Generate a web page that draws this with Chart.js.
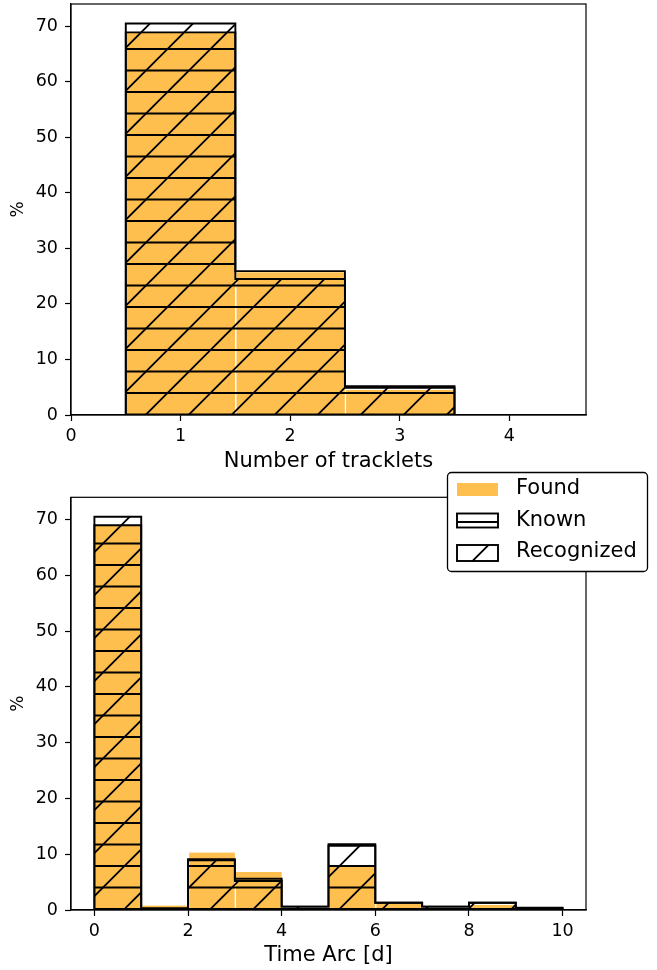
<!DOCTYPE html>
<html><head><meta charset="utf-8">
<script src="https://cdn.jsdelivr.net/npm/chart.js@4.4.1/dist/chart.umd.min.js"></script>
<style>
html,body{margin:0;padding:0;background:#fff;}
#wrap{position:relative;width:657px;height:970px;background:#fff;}
canvas{position:absolute;left:0;}
</style></head><body>
<div id="wrap">
<canvas id="c1" width="657" height="470" style="top:0px"></canvas>
<canvas id="c2" width="657" height="500" style="top:470px"></canvas>
</div>
<script>
// ---- data: top panel (Number of tracklets) ----
const trackletEdges = [0.5, 1.5, 2.5, 3.5];
const trackletFound = [68.9, 25.7, 4.5];
const trackletKnown = [68.9, 25.9, 5.2];
const trackletRecognized = [70.5, 24.5, 4.9];
const trackletTicks = [0, 1, 2, 3, 4];

// ---- data: bottom panel (Time Arc [d]) ----
const arcEdges = [0, 1, 2, 3, 4, 5, 6, 7, 8, 9, 10];
const arcFound = [69.0, 0.8, 10.3, 6.8, 0.4, 7.9, 1.1, 0.4, 0.9, 0.2];
const arcKnown = [69.0, 0.3, 9.1, 5.6, 0.6, 11.8, 1.3, 0.6, 1.3, 0.4];
const arcRecognized = [70.5, 0.3, 8.9, 5.2, 0.6, 11.5, 1.3, 0.6, 1.3, 0.3];
const arcTicks = [0, 2, 4, 6, 8, 10];

const percentTicks = [0, 10, 20, 30, 40, 50, 60, 70];
const legendLabels = ['Found', 'Known', 'Recognized'];

const FONT = '"DejaVu Sans", "Liberation Sans", sans-serif';
const ORANGE = 'rgb(254,191,78)';
const LW = 1.9;

function makeHatch(canvas, kind, phase) {
  const T = 43;
  const c = document.createElement('canvas');
  c.width = T; c.height = T;
  const g = c.getContext('2d');
  g.strokeStyle = '#000';
  g.lineWidth = LW;
  g.beginPath();
  if (kind === 'h') {
    for (let k = -2; k <= 3; k++) { const y = phase + k * 21.5; g.moveTo(-2, y); g.lineTo(T + 2, y); }
  } else {
    for (let k = -2; k <= 3; k++) { const s = phase + k * T; g.moveTo(s + 5, -5); g.lineTo(s - T - 5, T + 5); }
  }
  g.stroke();
  return canvas.getContext('2d').createPattern(c, 'repeat');
}

function centers(edges) { return edges.slice(0, -1).map((e, i) => (e + edges[i + 1]) / 2); }
function barPoints(edges, vals) { const c = centers(edges); return vals.map((v, i) => ({x: c[i], y: v})); }
function stepPoints(edges, vals) {
  const pts = [{x: edges[0], y: 0}];
  vals.forEach((v, i) => pts.push({x: edges[i], y: v}));
  pts.push({x: edges[edges.length - 1], y: 0});
  return pts;
}

function zeroPad(s) { s.paddingTop = 0; s.paddingBottom = 0; s.paddingLeft = 0; s.paddingRight = 0; }

const framePlugin = {
  id: 'frame',
  afterDatasetsDraw(chart) {
    const {ctx, chartArea: a} = chart;
    ctx.save();
    ctx.strokeStyle = '#000';
    ctx.lineWidth = 1.2;
    ctx.strokeRect(a.left, a.top, a.right - a.left, a.bottom - a.top);
    ctx.restore();
  }
};

function legendPlugin(hatchH, hatchD) {
  return {
    id: 'customLegend',
    afterDraw(chart) {
      const ctx = chart.ctx;
      ctx.save();
      const x0 = 447.5, y0 = 2.5, w = 200, h = 99, r = 4;
      ctx.beginPath();
      ctx.moveTo(x0 + r, y0);
      ctx.lineTo(x0 + w - r, y0); ctx.arcTo(x0 + w, y0, x0 + w, y0 + r, r);
      ctx.lineTo(x0 + w, y0 + h - r); ctx.arcTo(x0 + w, y0 + h, x0 + w - r, y0 + h, r);
      ctx.lineTo(x0 + r, y0 + h); ctx.arcTo(x0, y0 + h, x0, y0 + h - r, r);
      ctx.lineTo(x0, y0 + r); ctx.arcTo(x0, y0, x0 + r, y0, r);
      ctx.closePath();
      ctx.fillStyle = '#fff';
      ctx.fill();
      ctx.strokeStyle = '#000';
      ctx.lineWidth = 1.3;
      ctx.stroke();
      const rows = [19.5, 50.5, 83];
      const px = 457, pw = 41, ph = 14;
      ctx.fillStyle = ORANGE;
      ctx.fillRect(px, rows[0] - 6.5, pw, 13);
      ctx.fillStyle = hatchH;
      ctx.fillRect(px, rows[1] - ph / 2, pw, ph);
      ctx.lineWidth = LW;
      ctx.strokeRect(px, rows[1] - ph / 2, pw, ph);
      ctx.fillStyle = hatchD;
      ctx.fillRect(px, rows[2] - ph / 2 - 1, pw, ph + 2);
      ctx.strokeRect(px, rows[2] - ph / 2 - 1, pw, ph + 2);
      ctx.fillStyle = '#000';
      ctx.font = '21px ' + FONT;
      ctx.textBaseline = 'middle';
      ctx.textAlign = 'left';
      const ty = [19, 51, 82];
      legendLabels.forEach((t, i) => ctx.fillText(t, 516, ty[i]));
      ctx.restore();
    }
  };
}

function makeChart(id, cfg) {
  const canvas = document.getElementById(id);
  const H = canvas.height;
  const hatchH = makeHatch(canvas, 'h', cfg.hPhase);
  const hatchD = makeHatch(canvas, 'd', cfg.dPhase);
  const gridOpts = {display: true, drawOnChartArea: false, drawTicks: true, tickLength: 6, tickWidth: 1.2, tickColor: '#000', offset: false};
  const plugins = [framePlugin];
  if (cfg.legend) plugins.push(legendPlugin(hatchH, hatchD));
  return new Chart(canvas, {
    type: 'bar',
    data: {
      datasets: [
        {type: 'bar', label: legendLabels[0], data: barPoints(cfg.edges, cfg.found),
         backgroundColor: ORANGE, borderColor: '#fff', borderWidth: {left: 1.5, right: 0, top: 0, bottom: 0},
         barPercentage: 1, categoryPercentage: 1, order: 3},
        {type: 'line', label: legendLabels[1], data: stepPoints(cfg.edges, cfg.known), stepped: true,
         fill: 'origin', backgroundColor: hatchH, borderColor: '#000', borderWidth: LW,
         pointRadius: 0, tension: 0, order: 2},
        {type: 'line', label: legendLabels[2], data: stepPoints(cfg.edges, cfg.recognized), stepped: true,
         fill: 'origin', backgroundColor: hatchD, borderColor: '#000', borderWidth: LW,
         pointRadius: 0, tension: 0, order: 1}
      ]
    },
    options: {
      responsive: false, animation: false, devicePixelRatio: 1,
      layout: {padding: {left: 0, right: 71, top: cfg.top, bottom: 0}},
      plugins: {legend: {display: false}, tooltip: {enabled: false}},
      scales: {
        x: {
          type: 'linear', min: cfg.xmin, max: cfg.xmax, offset: false,
          afterBuildTicks: s => { s.ticks = cfg.xTicks.map(v => ({value: v})); },
          afterFit: s => { s.height = H - cfg.bottom; zeroPad(s); },
          grid: gridOpts,
          border: {display: true, color: '#000', width: 1.2},
          ticks: {color: '#000', font: {family: FONT, size: 17.5}, padding: 5, maxRotation: 0, autoSkip: false, callback: v => String(v)},
          title: {display: true, text: cfg.xTitle, color: '#000', font: {family: FONT, size: 21, lineHeight: 1.2}, padding: {top: 0, bottom: cfg.titlePB}}
        },
        y: {
          type: 'linear', min: 0, max: 74,
          afterBuildTicks: s => { s.ticks = percentTicks.map(v => ({value: v})); },
          afterFit: s => { s.width = 71; zeroPad(s); },
          grid: gridOpts,
          border: {display: true, color: '#000', width: 1.2},
          ticks: {color: '#000', font: {family: FONT, size: 17.5}, padding: 7, callback: v => String(v)},
          title: {display: true, text: '%', color: '#000', font: {family: FONT, size: 17, lineHeight: 1.2}, padding: {top: 8, bottom: 0}}
        }
      }
    },
    plugins: plugins
  });
}

makeChart('c1', {
  edges: trackletEdges, found: trackletFound, known: trackletKnown, recognized: trackletRecognized,
  xTicks: trackletTicks, xmin: 0, xmax: 4.7, xTitle: 'Number of tracklets',
  top: 4, bottom: 415, titlePB: -4.6, hPhase: 6, dPhase: 1.5, legend: false
});
makeChart('c2', {
  edges: arcEdges, found: arcFound, known: arcKnown, recognized: arcRecognized,
  xTicks: arcTicks, xmin: -0.5, xmax: 10.5, xTitle: 'Time Arc [d]',
  top: 27.3, bottom: 440, titlePB: 1.7, hPhase: 9, dPhase: 4.5, legend: true
});
</script>
</body></html>
